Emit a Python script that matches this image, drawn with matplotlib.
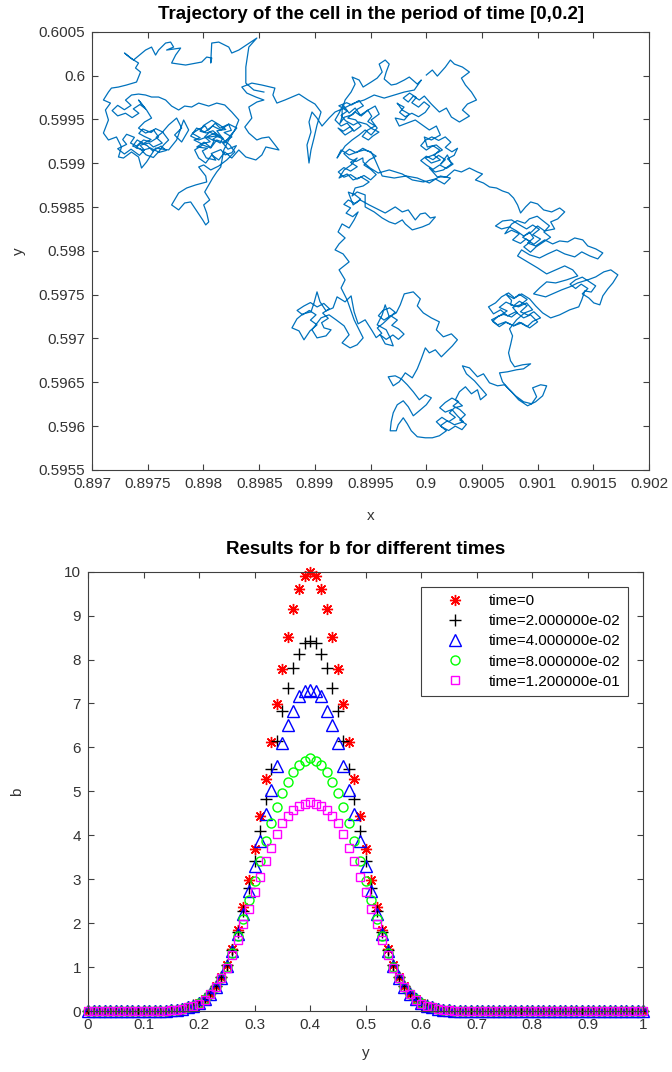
import numpy as np
import matplotlib.pyplot as plt

plt.rcParams['font.family'] = ['Liberation Sans', 'DejaVu Sans']

# cell trajectory: (dx, dy) displacement from the start point (0.9, 0.6), in units of 1e-6
x_start, y_start = 0.9, 0.6
path_um = [
    (0, 6), (54, 63), (99, -6), (171, 97), (216, 177), (252, 131), (324, 97), (387, 40), (315, -29), (351, -108),
    (405, -188), (450, -279), (369, -325), (324, -393), (387, -462), (297, -530), (225, -473), (180, -371),
    (117, -416), (45, -325), (-18, -234), (-63, -279), (-117, -234), (-162, -302), (-207, -257),
    (-150, -200), (-90, -250), (-130, -310), (-70, -360), (-20, -300), (30, -350), (-10, -420), (-70, -470),
    (-130, -430), (-190, -470), (-240, -420), (-200, -360), (-260, -320),
    (-261, -314), (-216, -393), (-153, -439), (-198, -507), (-279, -485), (-243, -576), (-171, -542), (-99, -507),
    (-36, -564), (27, -621), (90, -576), (126, -678), (45, -735), (-18, -701), (9, -815), (90, -792), (144, -849),
    (63, -906), (-9, -941), (45, -998), (126, -963),
    (70, -910), (120, -850), (60, -800), (0, -850), (-50, -800), (-10, -740), (50, -700), (110, -740), (170, -700),
    (220, -760), (170, -820), (230, -870), (280, -830), (250, -910), (190, -950), (240, -1010), (180, -1060),
    (120, -1020), (60, -1070), (0, -1020), (-50, -970), (0, -920), (60, -960), (110, -910), (170, -960), (130, -1010),
    (189, -906), (225, -1009), (153, -1077), (81, -1100), (27, -1055), (99, -1157), (180, -1157), (252, -1077),
    (315, -1100), (387, -1055), (459, -1100), (504, -1123), (441, -1191), (513, -1226), (567, -1271), (630, -1283),
    (684, -1317), (738, -1340), (783, -1397), (819, -1476), (846, -1568), (891, -1499), (936, -1442), (999, -1465),
    (1053, -1533), (1125, -1556), (1197, -1511), (1242, -1556), (1179, -1636), (1116, -1670), (1152, -1750),
    (1062, -1773), (999, -1716), (945, -1784), (873, -1830), (810, -1773), (747, -1727), (675, -1750), (621, -1716),
    (684, -1659), (765, -1647), (837, -1704), (900, -1750),
    (955, -1705), (1015, -1755), (955, -1815), (1025, -1865), (965, -1925), (895, -1865), (845, -1915), (775, -1875),
    (835, -1805), (765, -1765), (705, -1805), (765, -1695), (815, -1655), (885, -1685), (925, -1635), (995, -1605),
    (1045, -1655), (1105, -1715), (1055, -1785), (1115, -1845), (1045, -1905), (985, -1955), (935, -2015),
    (875, -1955), (935, -1895), (865, -1845), (925, -1785),
    (963, -1853), (909, -1910), (981, -1944), (1062, -1875), (1134, -1921), (1197, -1887), (1269, -1898),
    (1332, -1853), (1404, -1875), (1449, -1944), (1521, -1978), (1584, -2024), (1539, -2092), (1467, -2058),
    (1395, -2012), (1332, -2069), (1242, -2035), (1170, -1989), (1089, -2035), (1017, -2081), (927, -2046),
    (855, -1989), (819, -2058), (909, -2126), (999, -2195), (1080, -2263), (1161, -2217), (1242, -2172),
    (1314, -2217), (1359, -2286), (1260, -2331), (1161, -2366), (1080, -2354), (1017, -2423), (963, -2491),
    (1071, -2525), (1152, -2480), (1215, -2445), (1287, -2411), (1359, -2366), (1449, -2331), (1521, -2297),
    (1593, -2240), (1656, -2217), (1719, -2274), (1674, -2366), (1629, -2434), (1584, -2514), (1557, -2616),
    (1503, -2594), (1458, -2537),
    (1400, -2490), (1450, -2430), (1390, -2380), (1340, -2430), (1290, -2380), (1340, -2330), (1400, -2300),
    (1460, -2350), (1520, -2400), (1480, -2470),
    (1422, -2457), (1395, -2559), (1368, -2639), (1287, -2673), (1197, -2730), (1116, -2765), (1044, -2708),
    (981, -2628), (927, -2548), (855, -2491), (792, -2537), (738, -2480), (675, -2525), (621, -2594), (558, -2639),
    (603, -2719), (666, -2673), (729, -2742), (801, -2696), (873, -2765), (936, -2730), (999, -2810), (927, -2879),
    (855, -2822), (783, -2856), (711, -2810), (639, -2844), (585, -2787), (657, -2742),
    (725, -2685), (655, -2645), (715, -2585), (785, -2625), (835, -2575), (905, -2625), (845, -2695), (915, -2735),
    (965, -2695), (1025, -2765), (955, -2805), (905, -2865), (835, -2815), (785, -2855), (715, -2815), (655, -2865),
    (595, -2805), (645, -2745), (695, -2725), (765, -2755), (815, -2705), (775, -2645), (845, -2615), (905, -2555),
    (835, -2495), (785, -2545), (715, -2495), (765, -2565),
    (756, -2616), (828, -2639), (900, -2594), (954, -2673), (882, -2708), (810, -2787), (747, -2890), (774, -2970),
    (756, -3072), (738, -3164), (756, -3255), (792, -3323), (864, -3300), (936, -3289), (873, -3346), (810, -3357),
    (729, -3380), (657, -3392), (684, -3494), (738, -3574), (801, -3654), (873, -3722), (945, -3745), (990, -3665),
    (954, -3563), (1026, -3528), (1080, -3540), (1044, -3654), (981, -3722), (909, -3768), (828, -3699),
    (765, -3608), (702, -3528), (639, -3540), (567, -3506), (513, -3403), (459, -3437), (387, -3335), (324, -3312),
    (360, -3403), (432, -3483), (495, -3574), (540, -3642), (486, -3699), (459, -3585), (405, -3631), (351, -3551),
    (297, -3608), (261, -3699), (324, -3768), (252, -3791), (207, -3848),
    (260, -3900), (200, -3950), (140, -3900), (90, -3950), (140, -4010), (200, -4050), (260, -4000), (320, -4040),
    (360, -3980), (300, -3930), (350, -3870), (300, -3810), (240, -3770), (290, -3720), (230, -3680), (170, -3730),
    (120, -3790), (170, -3840), (230, -3810),
    (279, -3882), (333, -3950), (252, -3984), (189, -3939), (126, -3996), (180, -4053), (117, -4110), (54, -4133),
    (-9, -4133), (-81, -4121), (-135, -4053), (-171, -3973), (-207, -3905), (-252, -3984), (-270, -4053),
    (-324, -4053), (-315, -3950), (-297, -3848), (-261, -3756), (-207, -3711), (-162, -3779), (-117, -3882),
    (-63, -3825), (0, -3756), (45, -3677), (-9, -3642), (-63, -3699), (-117, -3608), (-171, -3528), (-225, -3460),
    (-279, -3426), (-342, -3437), (-297, -3540), (-243, -3494), (-189, -3392), (-126, -3449), (-81, -3346),
    (-45, -3232), (-9, -3107), (27, -3164), (81, -3129), (135, -3209), (189, -3141), (234, -3084), (279, -3015),
    (225, -2947), (153, -2981), (90, -2901), (117, -2810), (45, -2765), (-27, -2708), (-81, -2628), (-54, -2548),
    (-117, -2468), (-198, -2491), (-234, -2616), (-270, -2708), (-333, -2753), (-369, -2616), (-396, -2730),
    (-441, -2844), (-360, -2901), (-324, -2993), (-297, -3084), (-369, -3061), (-414, -2958),
    (-360, -3010), (-300, -2960), (-250, -3010), (-200, -2950), (-250, -2890), (-310, -2850), (-260, -2790),
    (-320, -2740), (-380, -2790), (-430, -2740), (-390, -2680), (-330, -2650), (-280, -2700), (-330, -2760),
    (-390, -2830), (-440, -2880), (-400, -2940), (-450, -2990),
    (-486, -2913), (-549, -2787), (-612, -2833), (-648, -2696), (-675, -2514), (-729, -2582), (-801, -2525),
    (-837, -2651), (-900, -2685), (-954, -2582), (-981, -2468), (-1008, -2594), (-1035, -2696), (-1107, -2719),
    (-1161, -2776), (-1206, -2879), (-1143, -2913), (-1098, -3015), (-1044, -2913), (-981, -2844),
    (-1040, -2790), (-990, -2730), (-1050, -2680), (-1110, -2730), (-1160, -2680), (-1100, -2630), (-1040, -2590),
    (-980, -2640), (-920, -2600), (-870, -2660), (-930, -2710), (-880, -2770), (-940, -2820),
    (-918, -2879), (-855, -2901), (-900, -2970), (-981, -2993), (-1026, -2901), (-945, -2765), (-873, -2730),
    (-810, -2787), (-738, -2856), (-693, -2958), (-756, -3050), (-684, -3107), (-621, -3072), (-567, -2993),
    (-648, -2787), (-711, -2559), (-765, -2423), (-729, -2331), (-783, -2217), (-693, -2126), (-747, -2035),
    (-819, -1989), (-783, -1921), (-729, -1853), (-792, -1784), (-756, -1693), (-693, -1739), (-648, -1647),
    (-612, -1556),
    (-660, -1610), (-720, -1570), (-680, -1510), (-740, -1470), (-700, -1420), (-640, -1460), (-590, -1410),
    (-640, -1360), (-700, -1330),
    (-657, -1476), (-594, -1419), (-513, -1476), (-423, -1533), (-369, -1568), (-279, -1499), (-216, -1556),
    (-162, -1533), (-99, -1647), (-54, -1579), (-9, -1568), (36, -1625), (81, -1613), (27, -1693), (-36, -1727),
    (-126, -1761), (-189, -1693), (-216, -1647), (-279, -1693), (-333, -1670), (-396, -1625), (-468, -1556),
    (-549, -1499), (-549, -1362), (-621, -1328), (-666, -1374), (-639, -1283), (-567, -1260), (-513, -1214),
    (-585, -1157), (-657, -1191), (-711, -1123), (-783, -1169), (-738, -1077), (-675, -1020), (-621, -941),
    (-680, -990), (-620, -1040), (-680, -1090), (-740, -1050), (-790, -1100), (-740, -1160), (-680, -1130),
    (-620, -1180), (-560, -1140), (-500, -1190), (-450, -1130), (-500, -1070), (-560, -1020), (-510, -960),
    (-450, -920), (-510, -870), (-570, -830), (-630, -880), (-690, -840), (-740, -890), (-690, -950), (-630, -980),
    (-570, -940),
    (-567, -986), (-504, -1055), (-432, -1112), (-333, -1077), (-216, -1123), (-126, -1191), (-27, -1214),
    (81, -1180), (162, -1237), (216, -1169), (126, -1146), (27, -1226), (-81, -1169), (-180, -1146), (-288, -1169),
    (-396, -1146), (-459, -963), (-495, -872), (-558, -849), (-621, -872), (-693, -906), (-765, -849), (-801, -941),
    (-729, -804), (-666, -735), (-603, -678), (-549, -621), (-495, -678), (-441, -599), (-495, -507), (-423, -439),
    (-459, -348), (-522, -393), (-585, -462), (-639, -371), (-693, -428), (-747, -336), (-783, -428), (-819, -507),
    (-765, -576), (-711, -542), (-657, -621), (-729, -678), (-792, -599),
    (-745, -635), (-685, -585), (-650, -635), (-585, -575), (-635, -505), (-705, -485), (-640, -415), (-595, -455),
    (-525, -395), (-490, -465), (-525, -525), (-460, -575), (-530, -625), (-575, -695), (-520, -735), (-480, -690),
    (-425, -645), (-490, -605), (-535, -555), (-605, -530), (-655, -565), (-725, -515), (-765, -455), (-710, -405),
    (-785, -345), (-715, -310), (-670, -335), (-605, -285), (-565, -345), (-620, -385), (-660, -445), (-735, -475),
    (-775, -545), (-755, -465),
    (-756, -393), (-729, -279), (-675, -188), (-639, -97), (-666, -17), (-603, -51), (-567, -131), (-495, -74),
    (-441, -29), (-396, 40), (-423, 131), (-369, 177), (-333, 131), (-360, 40), (-378, -40), (-315, -108),
    (-270, -97), (-198, -51), (-153, -17), (-81, -97), (-45, -51), (-108, -165), (-198, -188), (-288, -222),
    (-378, -257), (-468, -222), (-558, -279), (-648, -314), (-738, -371), (-819, -416), (-873, -485), (-936, -576),
    (-981, -485), (-1026, -416), (-1053, -530), (-1035, -644), (-1071, -792), (-1053, -998), (-1035, -849),
    (-1008, -713), (-981, -564), (-945, -416), (-999, -325), (-1062, -279), (-1143, -211), (-1206, -245),
    (-1269, -279), (-1341, -314), (-1377, -222), (-1359, -143), (-1476, -108), (-1566, -86), (-1656, -131),
    (-1611, -200), (-1530, -245), (-1458, -279), (-1521, -302), (-1593, -359), (-1566, -485), (-1629, -587),
    (-1593, -656), (-1521, -735), (-1476, -713), (-1413, -701), (-1323, -849), (-1440, -815), (-1476, -906),
    (-1530, -963), (-1620, -929), (-1683, -849), (-1746, -941), (-1809, -872), (-1863, -963), (-1926, -906),
    (-1980, -998), (-2043, -941), (-2079, -849), (-2007, -792), (-1935, -827), (-1881, -735), (-1809, -770),
    (-1755, -678), (-1701, -599), (-1773, -553), (-1845, -621), (-1917, -576), (-1989, -644), (-2061, -599),
    (-2115, -690), (-2043, -735), (-1971, -701), (-1899, -656), (-1827, -713),
    (-1850, -770), (-1915, -725), (-1870, -690), (-1945, -645), (-1990, -700), (-1940, -755), (-2015, -780),
    (-2085, -735), (-2030, -710), (-2100, -660), (-2045, -615), (-1985, -575), (-1960, -625), (-1895, -545),
    (-1850, -600), (-1775, -555), (-1750, -625), (-1815, -650), (-1745, -700), (-1830, -765), (-1780, -840),
    (-1705, -800), (-1745, -880), (-1805, -905), (-1845, -845), (-1930, -890), (-1890, -965), (-1975, -940),
    (-2010, -860), (-1965, -830), (-2060, -815), (-1995, -760), (-1935, -820), (-1905, -745), (-1965, -705),
    (-1890, -690), (-1825, -720), (-1880, -630), (-1800, -615), (-1860, -560), (-1925, -510), (-2000, -570),
    (-2030, -635), (-1975, -655), (-1915, -630),
    (-1764, -792), (-1719, -872), (-1791, -963), (-1863, -1032), (-1935, -1077), (-1998, -1020), (-2043, -1043),
    (-1980, -1146), (-1971, -1214), (-2070, -1248), (-2151, -1283), (-2223, -1340), (-2259, -1419), (-2286, -1476),
    (-2223, -1533), (-2169, -1454), (-2115, -1442), (-2079, -1511), (-2043, -1579), (-2007, -1647), (-1980, -1704),
    (-1953, -1670), (-1971, -1568), (-1998, -1476), (-1944, -1419), (-1989, -1328), (-1953, -1248), (-1917, -1169),
    (-1881, -1100), (-1845, -1043), (-1818, -849), (-1773, -735), (-1719, -621), (-1683, -507), (-1746, -416),
    (-1809, -336), (-1881, -314), (-1953, -348), (-2043, -314), (-2106, -359), (-2169, -348), (-2223, -393),
    (-2286, -348), (-2340, -279), (-2403, -245), (-2466, -245), (-2520, -222), (-2583, -211), (-2646, -222),
    (-2700, -280), (-2650, -340), (-2710, -390), (-2770, -340), (-2820, -400), (-2770, -460), (-2700, -430),
    (-2640, -480), (-2580, -430), (-2630, -380), (-2570, -330), (-2520, -380),
    (-2583, -279), (-2511, -393), (-2466, -485), (-2529, -530), (-2583, -599), (-2520, -656), (-2448, -621),
    (-2403, -701), (-2475, -758), (-2538, -735), (-2601, -804),
    (-2655, -770), (-2620, -705), (-2690, -670), (-2725, -730), (-2690, -785), (-2770, -835), (-2710, -895),
    (-2650, -840), (-2575, -910), (-2530, -850), (-2570, -795), (-2490, -770), (-2450, -815), (-2370, -770),
    (-2425, -705), (-2365, -645), (-2430, -605), (-2470, -650), (-2545, -610), (-2580, -660), (-2530, -695),
    (-2470, -730), (-2540, -775), (-2595, -735), (-2635, -805), (-2570, -835), (-2515, -905), (-2450, -935),
    (-2410, -880), (-2335, -855), (-2380, -805), (-2455, -860), (-2505, -800), (-2565, -765), (-2605, -825),
    (-2538, -849), (-2475, -827), (-2403, -872), (-2358, -792), (-2313, -735), (-2367, -644), (-2313, -564),
    (-2241, -485), (-2196, -599), (-2259, -678), (-2196, -758), (-2133, -621), (-2178, -507), (-2241, -735),
    (-2313, -849), (-2430, -827), (-2511, -986), (-2556, -1055), (-2583, -929), (-2646, -872), (-2718, -941),
    (-2763, -929), (-2736, -815), (-2781, -701), (-2853, -735), (-2898, -656), (-2853, -507), (-2880, -393),
    (-2835, -314), (-2898, -279), (-2853, -188), (-2826, -143), (-2763, -131), (-2691, -108), (-2601, -74),
    (-2565, 40), (-2610, 86), (-2583, 143), (-2655, 200), (-2709, 257), (-2628, 177), (-2520, 291), (-2466, 325),
    (-2430, 234), (-2403, 291), (-2340, 371), (-2295, 382), (-2268, 325), (-2331, 291), (-2205, 314), (-2250, 234),
    (-2286, 143), (-2160, 120), (-2016, 154), (-1971, 211), (-1926, 200), (-1935, 143), (-1926, 371), (-1863, 382),
    (-1773, 325), (-1746, 257), (-1683, 291), (-1521, 428), (-1593, 325), (-1620, 97), (-1620, -86), (-1548, -165),
    (-1458, -188),
]

# b profiles on y = 0, 0.01, ..., 1
y_grid = np.arange(101) / 100
b_t0 = [0.0] * 14 + [
    0.01, 0.02, 0.03, 0.05, 0.08, 0.12, 0.18, 0.27, 0.39, 0.56, 0.77, 1.05, 1.41, 1.85, 2.37, 2.98, 3.68,
    4.45, 5.27, 6.13, 6.98, 7.79, 8.52, 9.14, 9.61, 9.90, 10.0,
    9.90, 9.61, 9.14, 8.52, 7.79, 6.98, 6.13, 5.27, 4.45, 3.68, 2.98, 2.37, 1.85, 1.41, 1.05, 0.77, 0.56,
    0.39, 0.27, 0.18, 0.12, 0.08, 0.05, 0.03, 0.02, 0.01] + [0.0] * 34
b_t1 = [0.0] * 14 + [
    0.01, 0.02, 0.03, 0.05, 0.08, 0.13, 0.19, 0.28, 0.40, 0.56, 0.77, 1.04, 1.38, 1.80, 2.28, 2.81, 3.42,
    4.10, 4.82, 5.50, 6.15, 6.82, 7.36, 7.80, 8.12, 8.38, 8.42,
    8.38, 8.12, 7.80, 7.36, 6.82, 6.15, 5.50, 4.82, 4.10, 3.42, 2.81, 2.28, 1.80, 1.38, 1.04, 0.77, 0.56,
    0.40, 0.28, 0.19, 0.13, 0.08, 0.05, 0.03, 0.02, 0.01] + [0.0] * 34
b_t2 = [0.0] * 14 + [
    0.01, 0.02, 0.03, 0.05, 0.08, 0.12, 0.18, 0.27, 0.39, 0.55, 0.76, 1.03, 1.36, 1.75, 2.20, 2.73, 3.30,
    3.87, 4.48, 5.03, 5.58, 6.11, 6.51, 6.84, 7.16, 7.28, 7.30,
    7.28, 7.16, 6.84, 6.51, 6.11, 5.58, 5.03, 4.48, 3.87, 3.30, 2.73, 2.20, 1.75, 1.36, 1.03, 0.76, 0.55,
    0.39, 0.27, 0.18, 0.12, 0.08, 0.05, 0.03, 0.02, 0.01] + [0.0] * 34
b_t3 = [0.0] * 14 + [
    0.01, 0.02, 0.03, 0.05, 0.08, 0.12, 0.18, 0.27, 0.38, 0.54, 0.75, 1.01, 1.33, 1.70, 2.10, 2.52, 2.97,
    3.42, 3.86, 4.27, 4.64, 4.97, 5.22, 5.43, 5.60, 5.70, 5.75,
    5.70, 5.60, 5.43, 5.22, 4.97, 4.64, 4.27, 3.86, 3.42, 2.97, 2.52, 2.10, 1.70, 1.33, 1.01, 0.75, 0.54,
    0.38, 0.27, 0.18, 0.12, 0.08, 0.05, 0.03, 0.02, 0.01] + [0.0] * 34
b_t4 = [0.0] * 14 + [
    0.01, 0.02, 0.03, 0.05, 0.08, 0.12, 0.17, 0.26, 0.38, 0.54, 0.74, 0.99, 1.28, 1.61, 1.97, 2.33, 2.70,
    3.05, 3.41, 3.72, 4.02, 4.27, 4.45, 4.58, 4.66, 4.72, 4.75,
    4.72, 4.66, 4.58, 4.45, 4.27, 4.02, 3.72, 3.41, 3.05, 2.70, 2.33, 1.97, 1.61, 1.28, 0.99, 0.74, 0.54,
    0.38, 0.26, 0.17, 0.12, 0.08, 0.05, 0.03, 0.02, 0.01] + [0.0] * 34
labels = ['time=0', 'time=2.000000e-02', 'time=4.000000e-02', 'time=8.000000e-02', 'time=1.200000e-01']

path = np.array(path_um, dtype=float) * 1e-6
traj_x = x_start + path[:, 0]
traj_y = y_start + path[:, 1]

axis_col = '0.25'
fig = plt.figure(figsize=(6.72, 10.72), dpi=100)

# top: trajectory
ax1 = fig.add_axes([0.137, 0.5616, 0.829, 0.4088])
ax1.plot(traj_x, traj_y, color='#0072BD', lw=0.9)
ax1.set_xlim(0.897, 0.902)
ax1.set_ylim(0.5955, 0.6005)
ax1.set_xticks(np.linspace(0.897, 0.902, 11))
ax1.set_xticklabels(['0.897', '0.8975', '0.898', '0.8985', '0.899', '0.8995', '0.9',
                     '0.9005', '0.901', '0.9015', '0.902'])
ax1.set_yticks(np.linspace(0.5955, 0.6005, 11))
ax1.set_yticklabels(['0.5955', '0.596', '0.5965', '0.597', '0.5975', '0.598', '0.5985',
                     '0.599', '0.5995', '0.6', '0.6005'])
ax1.set_title('Trajectory of the cell in the period of time [0,0.2]', fontsize=13.5,
              fontweight='bold', pad=9)
ax1.set_xlabel('x', fontsize=11)
ax1.set_ylabel('y', fontsize=11)
ax1.xaxis.set_label_coords(0.5, -0.09)
ax1.yaxis.set_label_coords(-0.118, 0.5)

# bottom: b profiles
ax2 = fig.add_axes([0.131, 0.0569, 0.826, 0.4098])
styles = [
    dict(marker=(8, 2, 0), color='red', ms=8),
    dict(marker='+', color='black', ms=8.5),
    dict(marker='^', color='blue', ms=8.5),
    dict(marker='o', color='#00ff00', ms=6.5),
    dict(marker='s', color='magenta', ms=6),
]
for b, st, lab in zip([b_t0, b_t1, b_t2, b_t3, b_t4], styles, labels):
    ax2.plot(y_grid, b, linestyle='none', marker=st['marker'], ms=st['ms'],
             markerfacecolor='none', markeredgecolor=st['color'], mew=1.0, label=lab,
             clip_on=False)
ax2.set_xlim(0, 1)
ax2.set_ylim(0, 10)
ax2.set_xticks(np.linspace(0, 1, 11))
ax2.set_xticklabels(['0', '0.1', '0.2', '0.3', '0.4', '0.5', '0.6', '0.7', '0.8', '0.9', '1'])
ax2.set_yticks(range(11))
ax2.set_title('Results for b for different times', fontsize=13.5, fontweight='bold', pad=12.5)
ax2.set_xlabel('y', fontsize=11)
ax2.set_ylabel('b', fontsize=11)
ax2.xaxis.set_label_coords(0.5, -0.08)
ax2.yaxis.set_label_coords(-0.115, 0.5)
leg = ax2.legend(loc='upper right', bbox_to_anchor=(0.973, 0.966), borderaxespad=0,
                 fancybox=False, framealpha=1, edgecolor=axis_col, fontsize=11,
                 handlelength=3.5, handletextpad=0.45, labelspacing=0.4,
                 borderpad=0.5, numpoints=1)
leg.get_frame().set_linewidth(0.8)

for ax in (ax1, ax2):
    ax.tick_params(direction='in', top=True, right=True, length=4, width=0.8,
                   labelsize=11, colors=axis_col, labelcolor='0.2', pad=5)
    for sp in ax.spines.values():
        sp.set_color(axis_col)
        sp.set_linewidth(0.8)
    ax.xaxis.label.set_color('0.2')
    ax.yaxis.label.set_color('0.2')

fig.savefig('out.png', dpi=100, facecolor='white')
